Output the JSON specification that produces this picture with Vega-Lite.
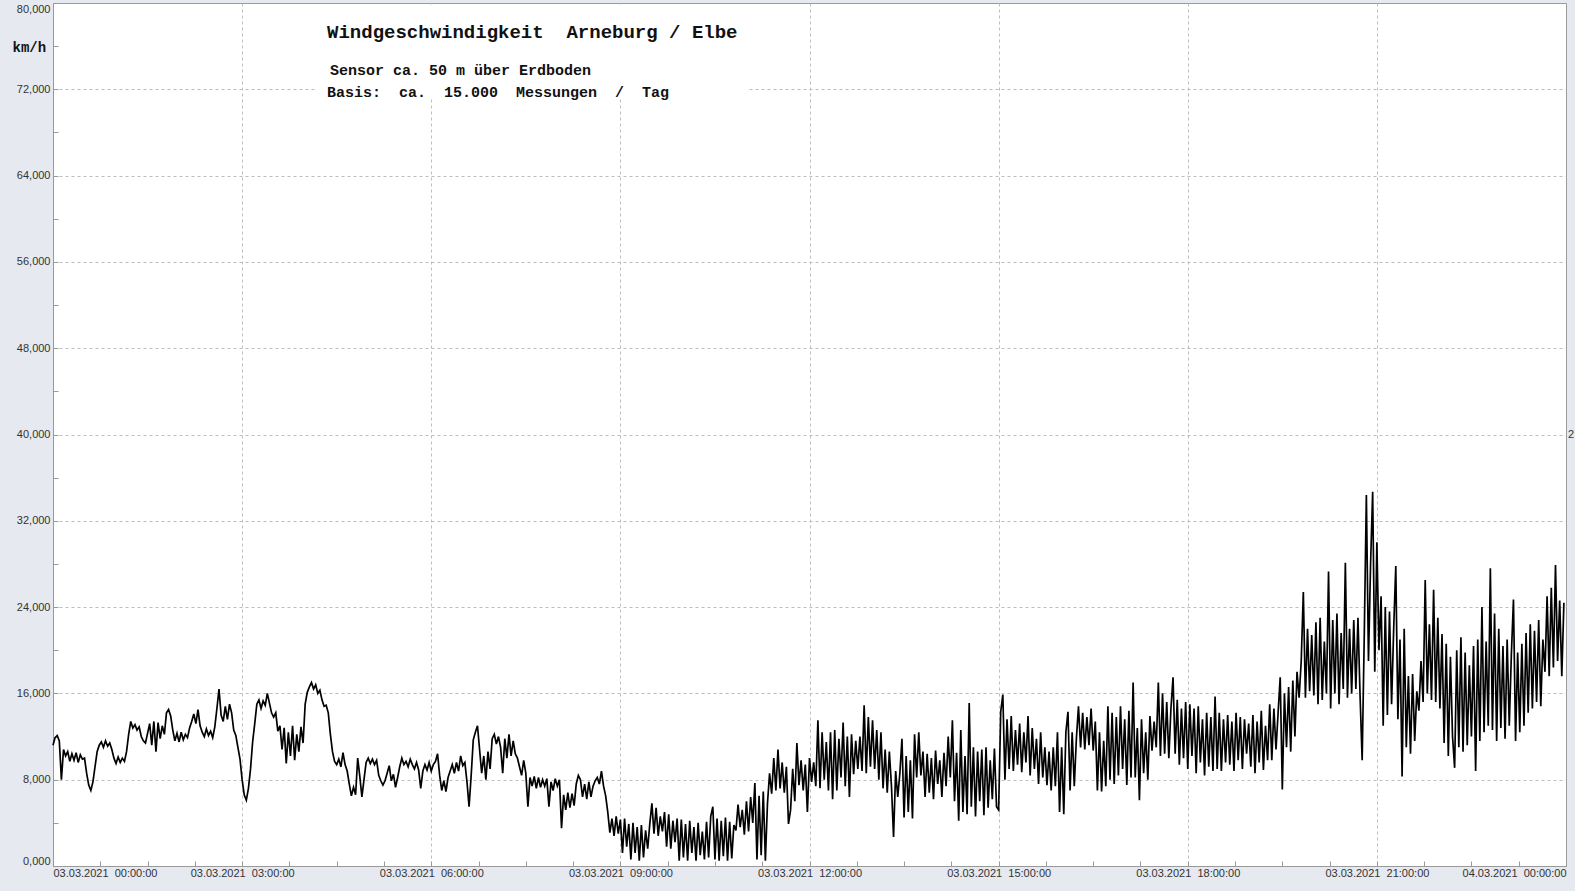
{
"$schema": "https://vega.github.io/schema/vega-lite/v6.json",
"width": 1513, "height": 863,
"autosize": {"type": "none"},
"padding": {"left": 53, "top": 3, "right": 9, "bottom": 25},
"background": "#E6E9F0",
"config": {"view": {"fill": "white", "stroke": "#9a9a9a", "strokeWidth": 1}},
"datasets": {
"wind": [
{"m":0,"v":11.2},{"m":2,"v":11.9},{"m":4,"v":12.1},{"m":6,"v":11.6},{"m":8,"v":8.0},{"m":10,"v":10.8},{"m":12,"v":10.2},{"m":14,"v":10.6},{"m":16,"v":9.7},{"m":18,"v":10.4},
{"m":20,"v":9.8},{"m":22,"v":10.5},{"m":24,"v":9.6},{"m":26,"v":10.3},{"m":28,"v":9.9},{"m":30,"v":10.0},{"m":32,"v":8.6},{"m":34,"v":7.5},{"m":36,"v":7.0},{"m":38,"v":7.8},
{"m":40,"v":9.2},{"m":42,"v":10.6},{"m":44,"v":11.2},{"m":46,"v":11.5},{"m":48,"v":11.0},{"m":50,"v":11.6},{"m":52,"v":11.1},{"m":54,"v":11.4},{"m":56,"v":10.8},{"m":58,"v":10.0},
{"m":60,"v":9.5},{"m":62,"v":10.1},{"m":64,"v":9.6},{"m":66,"v":10.0},{"m":68,"v":9.7},{"m":70,"v":10.6},{"m":72,"v":12.2},{"m":74,"v":13.4},{"m":76,"v":12.8},{"m":78,"v":13.1},
{"m":80,"v":12.6},{"m":82,"v":12.9},{"m":84,"v":12.0},{"m":86,"v":11.6},{"m":88,"v":11.4},{"m":90,"v":12.3},{"m":92,"v":13.2},{"m":94,"v":11.2},{"m":96,"v":13.4},{"m":98,"v":10.6},
{"m":100,"v":13.3},{"m":102,"v":11.8},{"m":104,"v":13.0},{"m":106,"v":12.2},{"m":108,"v":14.2},{"m":110,"v":14.5},{"m":112,"v":13.9},{"m":114,"v":12.6},{"m":116,"v":11.6},{"m":118,"v":12.3},
{"m":120,"v":11.5},{"m":122,"v":12.4},{"m":124,"v":11.7},{"m":126,"v":12.2},{"m":128,"v":11.9},{"m":130,"v":12.8},{"m":132,"v":13.4},{"m":134,"v":14.1},{"m":136,"v":13.2},{"m":138,"v":14.5},
{"m":140,"v":13.0},{"m":142,"v":12.4},{"m":144,"v":12.0},{"m":146,"v":12.7},{"m":148,"v":12.1},{"m":150,"v":12.5},{"m":152,"v":11.9},{"m":154,"v":12.9},{"m":156,"v":14.6},{"m":158,"v":16.4},
{"m":160,"v":14.0},{"m":162,"v":13.4},{"m":164,"v":14.8},{"m":166,"v":13.6},{"m":168,"v":15.0},{"m":170,"v":14.2},{"m":172,"v":12.6},{"m":174,"v":12.1},{"m":176,"v":11.0},{"m":178,"v":9.9},
{"m":180,"v":8.0},{"m":182,"v":6.6},{"m":184,"v":6.1},{"m":186,"v":7.2},{"m":188,"v":9.0},{"m":190,"v":11.5},{"m":192,"v":13.2},{"m":194,"v":15.0},{"m":196,"v":15.4},{"m":198,"v":14.6},
{"m":200,"v":15.3},{"m":202,"v":14.9},{"m":204,"v":16.0},{"m":206,"v":15.1},{"m":208,"v":14.2},{"m":210,"v":13.8},{"m":212,"v":14.2},{"m":214,"v":12.5},{"m":216,"v":13.0},{"m":218,"v":10.8},
{"m":220,"v":12.8},{"m":222,"v":9.5},{"m":224,"v":12.4},{"m":226,"v":10.2},{"m":228,"v":13.0},{"m":230,"v":9.8},{"m":232,"v":12.2},{"m":234,"v":10.6},{"m":236,"v":12.9},{"m":238,"v":11.4},
{"m":240,"v":15.0},{"m":242,"v":16.1},{"m":244,"v":16.6},{"m":246,"v":17.0},{"m":248,"v":16.4},{"m":250,"v":16.8},{"m":252,"v":16.0},{"m":254,"v":16.3},{"m":256,"v":15.4},{"m":258,"v":14.8},
{"m":260,"v":14.9},{"m":262,"v":14.2},{"m":264,"v":12.2},{"m":266,"v":10.6},{"m":268,"v":9.7},{"m":270,"v":9.4},{"m":272,"v":9.9},{"m":274,"v":9.2},{"m":276,"v":10.5},{"m":278,"v":9.4},
{"m":280,"v":8.8},{"m":282,"v":7.6},{"m":284,"v":6.5},{"m":286,"v":7.3},{"m":288,"v":6.6},{"m":290,"v":10.0},{"m":292,"v":8.3},{"m":294,"v":6.4},{"m":296,"v":8.0},{"m":298,"v":9.6},
{"m":300,"v":10.0},{"m":302,"v":9.5},{"m":304,"v":9.9},{"m":306,"v":9.4},{"m":308,"v":9.8},{"m":310,"v":8.4},{"m":312,"v":7.9},{"m":314,"v":7.5},{"m":316,"v":7.9},{"m":318,"v":8.6},
{"m":320,"v":9.3},{"m":322,"v":7.9},{"m":324,"v":8.5},{"m":326,"v":7.3},{"m":328,"v":8.2},{"m":330,"v":9.2},{"m":332,"v":10.0},{"m":334,"v":9.4},{"m":336,"v":9.7},{"m":338,"v":9.2},
{"m":340,"v":9.9},{"m":342,"v":9.4},{"m":344,"v":9.0},{"m":346,"v":9.6},{"m":348,"v":8.9},{"m":350,"v":7.2},{"m":352,"v":8.8},{"m":354,"v":9.4},{"m":356,"v":8.9},{"m":358,"v":9.6},
{"m":360,"v":8.8},{"m":362,"v":9.4},{"m":364,"v":9.7},{"m":366,"v":10.4},{"m":368,"v":8.4},{"m":370,"v":7.0},{"m":372,"v":7.9},{"m":374,"v":6.9},{"m":376,"v":8.2},{"m":378,"v":8.8},
{"m":380,"v":9.4},{"m":382,"v":8.6},{"m":384,"v":9.6},{"m":386,"v":8.8},{"m":388,"v":10.2},{"m":390,"v":9.3},{"m":392,"v":9.6},{"m":394,"v":7.8},{"m":396,"v":5.5},{"m":398,"v":8.4},
{"m":400,"v":11.7},{"m":402,"v":12.4},{"m":404,"v":13.0},{"m":406,"v":10.8},{"m":408,"v":8.6},{"m":410,"v":10.2},{"m":412,"v":8.0},{"m":414,"v":10.6},{"m":416,"v":9.0},{"m":418,"v":11.8},
{"m":420,"v":12.2},{"m":422,"v":11.3},{"m":424,"v":12.0},{"m":426,"v":11.0},{"m":428,"v":8.6},{"m":430,"v":11.8},{"m":432,"v":10.0},{"m":434,"v":12.2},{"m":436,"v":10.2},{"m":438,"v":11.6},
{"m":440,"v":10.4},{"m":442,"v":10.0},{"m":444,"v":9.2},{"m":446,"v":8.4},{"m":448,"v":9.8},{"m":450,"v":8.6},{"m":452,"v":5.5},{"m":454,"v":8.2},{"m":456,"v":7.4},{"m":458,"v":8.3},
{"m":460,"v":7.2},{"m":462,"v":8.2},{"m":464,"v":7.3},{"m":466,"v":8.0},{"m":468,"v":7.4},{"m":470,"v":8.1},{"m":472,"v":5.5},{"m":474,"v":7.8},{"m":476,"v":7.0},{"m":478,"v":8.1},
{"m":480,"v":7.4},{"m":482,"v":8.0},{"m":484,"v":3.5},{"m":486,"v":6.6},{"m":488,"v":5.2},{"m":490,"v":6.8},{"m":492,"v":5.4},{"m":494,"v":6.7},{"m":496,"v":5.6},{"m":498,"v":7.6},
{"m":500,"v":8.4},{"m":502,"v":8.0},{"m":504,"v":6.4},{"m":506,"v":7.6},{"m":508,"v":6.2},{"m":510,"v":7.8},{"m":512,"v":6.4},{"m":514,"v":7.4},{"m":516,"v":7.9},{"m":518,"v":8.2},
{"m":520,"v":7.6},{"m":522,"v":8.8},{"m":524,"v":7.4},{"m":526,"v":6.5},{"m":528,"v":5.0},{"m":530,"v":3.1},{"m":532,"v":4.4},{"m":534,"v":2.8},{"m":536,"v":4.6},{"m":538,"v":3.0},
{"m":540,"v":4.3},{"m":542,"v":1.2},{"m":544,"v":4.4},{"m":546,"v":1.8},{"m":548,"v":3.9},{"m":550,"v":0.6},{"m":552,"v":4.0},{"m":554,"v":1.2},{"m":556,"v":3.6},{"m":558,"v":0.5},
{"m":560,"v":3.8},{"m":562,"v":0.8},{"m":564,"v":3.3},{"m":566,"v":1.6},{"m":568,"v":3.9},{"m":570,"v":5.8},{"m":572,"v":3.0},{"m":574,"v":5.4},{"m":576,"v":2.8},{"m":578,"v":4.6},
{"m":580,"v":3.2},{"m":582,"v":5.0},{"m":584,"v":1.8},{"m":586,"v":4.8},{"m":588,"v":1.6},{"m":590,"v":4.2},{"m":592,"v":2.2},{"m":594,"v":4.4},{"m":596,"v":0.5},{"m":598,"v":4.3},
{"m":600,"v":0.8},{"m":602,"v":3.9},{"m":604,"v":0.5},{"m":606,"v":4.2},{"m":608,"v":1.2},{"m":610,"v":3.6},{"m":612,"v":0.5},{"m":614,"v":4.0},{"m":616,"v":1.0},{"m":618,"v":3.2},
{"m":620,"v":0.6},{"m":622,"v":4.1},{"m":624,"v":0.8},{"m":626,"v":4.6},{"m":628,"v":5.5},{"m":630,"v":0.6},{"m":632,"v":4.4},{"m":634,"v":0.5},{"m":636,"v":4.2},{"m":638,"v":0.9},
{"m":640,"v":4.5},{"m":642,"v":0.5},{"m":644,"v":4.1},{"m":646,"v":0.7},{"m":648,"v":3.8},{"m":650,"v":3.3},{"m":652,"v":5.7},{"m":654,"v":3.6},{"m":656,"v":5.2},{"m":658,"v":2.9},
{"m":660,"v":6.0},{"m":662,"v":3.2},{"m":664,"v":6.4},{"m":666,"v":4.0},{"m":668,"v":7.7},{"m":670,"v":0.6},{"m":672,"v":6.5},{"m":674,"v":1.0},{"m":676,"v":6.9},{"m":678,"v":0.5},
{"m":680,"v":5.8},{"m":682,"v":8.6},{"m":684,"v":6.7},{"m":686,"v":10.0},{"m":688,"v":7.0},{"m":690,"v":10.8},{"m":692,"v":7.2},{"m":694,"v":9.6},{"m":696,"v":6.8},{"m":698,"v":9.2},
{"m":700,"v":3.9},{"m":702,"v":5.2},{"m":704,"v":9.0},{"m":706,"v":6.0},{"m":708,"v":11.4},{"m":710,"v":7.5},{"m":712,"v":9.8},{"m":714,"v":7.0},{"m":716,"v":9.4},{"m":718,"v":5.0},
{"m":720,"v":10.0},{"m":722,"v":7.8},{"m":724,"v":9.6},{"m":726,"v":7.4},{"m":728,"v":13.5},{"m":730,"v":7.2},{"m":732,"v":12.4},{"m":734,"v":8.0},{"m":736,"v":11.5},{"m":738,"v":7.0},
{"m":740,"v":12.4},{"m":742,"v":6.2},{"m":744,"v":12.6},{"m":746,"v":7.0},{"m":748,"v":11.8},{"m":750,"v":8.2},{"m":752,"v":13.3},{"m":754,"v":7.4},{"m":756,"v":12.0},{"m":758,"v":6.4},
{"m":760,"v":12.2},{"m":762,"v":8.5},{"m":764,"v":11.6},{"m":766,"v":9.0},{"m":768,"v":12.0},{"m":770,"v":8.8},{"m":772,"v":14.9},{"m":774,"v":8.6},{"m":776,"v":13.8},{"m":778,"v":9.2},
{"m":780,"v":13.5},{"m":782,"v":9.0},{"m":784,"v":12.6},{"m":786,"v":8.0},{"m":788,"v":12.4},{"m":790,"v":7.2},{"m":792,"v":10.8},{"m":794,"v":6.8},{"m":796,"v":10.6},{"m":798,"v":7.4},
{"m":800,"v":2.7},{"m":802,"v":8.8},{"m":804,"v":6.4},{"m":806,"v":8.6},{"m":808,"v":11.8},{"m":810,"v":4.5},{"m":812,"v":10.2},{"m":814,"v":5.0},{"m":816,"v":9.8},{"m":818,"v":4.4},
{"m":820,"v":12.2},{"m":822,"v":8.2},{"m":824,"v":12.4},{"m":826,"v":8.4},{"m":828,"v":10.6},{"m":830,"v":6.4},{"m":832,"v":10.4},{"m":834,"v":6.8},{"m":836,"v":10.0},{"m":838,"v":6.2},
{"m":840,"v":10.7},{"m":842,"v":7.6},{"m":844,"v":9.8},{"m":846,"v":6.4},{"m":848,"v":10.5},{"m":850,"v":7.4},{"m":852,"v":12.0},{"m":854,"v":8.2},{"m":856,"v":13.5},{"m":858,"v":6.0},
{"m":860,"v":10.5},{"m":862,"v":4.2},{"m":864,"v":12.6},{"m":866,"v":5.0},{"m":868,"v":10.2},{"m":870,"v":4.8},{"m":872,"v":15.1},{"m":874,"v":5.5},{"m":876,"v":11.0},{"m":878,"v":4.6},
{"m":880,"v":10.6},{"m":882,"v":6.0},{"m":884,"v":10.8},{"m":886,"v":4.7},{"m":888,"v":11.0},{"m":890,"v":5.4},{"m":892,"v":9.8},{"m":894,"v":6.2},{"m":896,"v":10.9},{"m":898,"v":5.5},
{"m":900,"v":5.2},{"m":902,"v":14.3},{"m":904,"v":15.9},{"m":906,"v":8.0},{"m":908,"v":13.6},{"m":910,"v":9.0},{"m":912,"v":13.9},{"m":914,"v":8.8},{"m":916,"v":12.6},{"m":918,"v":9.4},
{"m":920,"v":13.2},{"m":922,"v":8.7},{"m":924,"v":12.4},{"m":926,"v":9.6},{"m":928,"v":13.9},{"m":930,"v":8.4},{"m":932,"v":12.8},{"m":934,"v":9.0},{"m":936,"v":11.8},{"m":938,"v":7.6},
{"m":940,"v":12.4},{"m":942,"v":8.2},{"m":944,"v":11.0},{"m":946,"v":7.5},{"m":948,"v":10.6},{"m":950,"v":7.0},{"m":952,"v":11.0},{"m":954,"v":7.4},{"m":956,"v":12.4},{"m":958,"v":5.0},
{"m":960,"v":11.0},{"m":962,"v":4.8},{"m":964,"v":12.4},{"m":966,"v":14.3},{"m":968,"v":7.0},{"m":970,"v":12.4},{"m":972,"v":7.4},{"m":974,"v":11.8},{"m":976,"v":14.8},{"m":978,"v":11.0},
{"m":980,"v":14.2},{"m":982,"v":10.8},{"m":984,"v":13.8},{"m":986,"v":11.2},{"m":988,"v":14.6},{"m":990,"v":10.7},{"m":992,"v":13.4},{"m":994,"v":7.0},{"m":996,"v":12.4},{"m":998,"v":6.9},
{"m":1000,"v":11.6},{"m":1002,"v":7.4},{"m":1004,"v":14.8},{"m":1006,"v":8.0},{"m":1008,"v":14.2},{"m":1010,"v":7.6},{"m":1012,"v":13.8},{"m":1014,"v":8.4},{"m":1016,"v":14.8},{"m":1018,"v":9.0},
{"m":1020,"v":13.6},{"m":1022,"v":7.5},{"m":1024,"v":14.4},{"m":1026,"v":8.2},{"m":1028,"v":17.0},{"m":1030,"v":8.2},{"m":1032,"v":12.8},{"m":1034,"v":6.1},{"m":1036,"v":13.6},{"m":1038,"v":8.6},
{"m":1040,"v":12.4},{"m":1042,"v":8.0},{"m":1044,"v":13.9},{"m":1046,"v":10.7},{"m":1048,"v":13.4},{"m":1050,"v":11.0},{"m":1052,"v":17.0},{"m":1054,"v":10.2},{"m":1056,"v":16.0},{"m":1058,"v":10.4},
{"m":1060,"v":15.2},{"m":1062,"v":10.0},{"m":1064,"v":14.6},{"m":1066,"v":17.5},{"m":1068,"v":10.4},{"m":1070,"v":15.4},{"m":1072,"v":9.4},{"m":1074,"v":14.6},{"m":1076,"v":10.0},{"m":1078,"v":15.2},
{"m":1080,"v":9.0},{"m":1082,"v":15.0},{"m":1084,"v":10.2},{"m":1086,"v":14.6},{"m":1088,"v":8.6},{"m":1090,"v":14.8},{"m":1092,"v":9.6},{"m":1094,"v":13.6},{"m":1096,"v":8.4},{"m":1098,"v":14.2},
{"m":1100,"v":9.2},{"m":1102,"v":13.8},{"m":1104,"v":8.8},{"m":1106,"v":15.7},{"m":1108,"v":9.0},{"m":1110,"v":14.2},{"m":1112,"v":8.8},{"m":1114,"v":13.6},{"m":1116,"v":9.6},{"m":1118,"v":14.0},
{"m":1120,"v":9.4},{"m":1122,"v":13.4},{"m":1124,"v":8.8},{"m":1126,"v":14.2},{"m":1128,"v":9.8},{"m":1130,"v":13.8},{"m":1132,"v":9.0},{"m":1134,"v":13.6},{"m":1136,"v":10.4},{"m":1138,"v":13.2},
{"m":1140,"v":9.2},{"m":1142,"v":14.0},{"m":1144,"v":8.6},{"m":1146,"v":13.4},{"m":1148,"v":9.6},{"m":1150,"v":14.4},{"m":1152,"v":8.9},{"m":1154,"v":13.0},{"m":1156,"v":9.8},{"m":1158,"v":15.0},
{"m":1160,"v":9.8},{"m":1162,"v":14.6},{"m":1164,"v":10.8},{"m":1166,"v":14.2},{"m":1168,"v":17.5},{"m":1170,"v":7.1},{"m":1172,"v":16.0},{"m":1174,"v":11.0},{"m":1176,"v":16.6},{"m":1178,"v":10.6},
{"m":1180,"v":17.2},{"m":1182,"v":12.0},{"m":1184,"v":18.0},{"m":1186,"v":15.6},{"m":1188,"v":19.0},{"m":1190,"v":25.4},{"m":1192,"v":15.6},{"m":1194,"v":22.0},{"m":1196,"v":16.2},{"m":1198,"v":21.4},
{"m":1200,"v":15.8},{"m":1202,"v":22.6},{"m":1204,"v":15.0},{"m":1206,"v":23.0},{"m":1208,"v":15.4},{"m":1210,"v":20.8},{"m":1212,"v":16.0},{"m":1214,"v":27.3},{"m":1216,"v":14.6},{"m":1218,"v":22.8},
{"m":1220,"v":16.0},{"m":1222,"v":23.4},{"m":1224,"v":15.0},{"m":1226,"v":21.6},{"m":1228,"v":16.4},{"m":1230,"v":28.1},{"m":1232,"v":15.6},{"m":1234,"v":22.0},{"m":1236,"v":16.0},{"m":1238,"v":22.8},
{"m":1240,"v":16.4},{"m":1242,"v":23.0},{"m":1244,"v":15.8},{"m":1246,"v":9.8},{"m":1248,"v":21.4},{"m":1250,"v":34.4},{"m":1252,"v":19.0},{"m":1254,"v":28.0},{"m":1256,"v":34.7},{"m":1258,"v":18.0},
{"m":1260,"v":30.0},{"m":1262,"v":20.0},{"m":1264,"v":25.0},{"m":1266,"v":13.0},{"m":1268,"v":24.0},{"m":1270,"v":14.0},{"m":1272,"v":23.6},{"m":1274,"v":15.0},{"m":1276,"v":22.0},{"m":1278,"v":27.8},
{"m":1280,"v":13.6},{"m":1282,"v":21.0},{"m":1284,"v":8.3},{"m":1286,"v":22.0},{"m":1288,"v":11.0},{"m":1290,"v":17.6},{"m":1292,"v":10.4},{"m":1294,"v":17.8},{"m":1296,"v":11.6},{"m":1298,"v":16.2},
{"m":1300,"v":14.4},{"m":1302,"v":19.0},{"m":1304,"v":15.2},{"m":1306,"v":26.5},{"m":1308,"v":16.0},{"m":1310,"v":22.4},{"m":1312,"v":15.4},{"m":1314,"v":25.6},{"m":1316,"v":15.2},{"m":1318,"v":23.0},
{"m":1320,"v":14.6},{"m":1322,"v":21.5},{"m":1324,"v":11.4},{"m":1326,"v":20.6},{"m":1328,"v":10.2},{"m":1330,"v":19.4},{"m":1332,"v":12.0},{"m":1334,"v":9.1},{"m":1336,"v":20.0},{"m":1338,"v":11.0},
{"m":1340,"v":21.2},{"m":1342,"v":10.6},{"m":1344,"v":19.8},{"m":1346,"v":11.2},{"m":1348,"v":18.6},{"m":1350,"v":12.0},{"m":1352,"v":20.4},{"m":1354,"v":8.8},{"m":1356,"v":21.0},{"m":1358,"v":11.6},
{"m":1360,"v":24.0},{"m":1362,"v":12.4},{"m":1364,"v":20.8},{"m":1366,"v":13.0},{"m":1368,"v":27.6},{"m":1370,"v":12.6},{"m":1372,"v":23.4},{"m":1374,"v":11.6},{"m":1376,"v":22.0},{"m":1378,"v":12.8},
{"m":1380,"v":20.4},{"m":1382,"v":11.8},{"m":1384,"v":21.0},{"m":1386,"v":13.0},{"m":1388,"v":19.6},{"m":1390,"v":24.7},{"m":1392,"v":11.6},{"m":1394,"v":19.8},{"m":1396,"v":12.4},{"m":1398,"v":20.6},
{"m":1400,"v":13.0},{"m":1402,"v":21.6},{"m":1404,"v":14.2},{"m":1406,"v":22.4},{"m":1408,"v":14.6},{"m":1410,"v":21.8},{"m":1412,"v":15.2},{"m":1414,"v":22.8},{"m":1416,"v":14.8},{"m":1418,"v":21.0},
{"m":1420,"v":18.0},{"m":1422,"v":25.0},{"m":1424,"v":17.6},{"m":1426,"v":25.8},{"m":1428,"v":18.4},{"m":1430,"v":27.9},{"m":1432,"v":19.0},{"m":1434,"v":24.6},{"m":1436,"v":17.6},{"m":1438,"v":24.4}
],
"titleText": [{"label": "Windgeschwindigkeit\u00a0\u00a0Arneburg / Elbe"}],
"sensorText": [{"label": "Sensor ca. 50 m über Erdboden"}],
"basisText": [{"label": "Basis:\u00a0\u00a0ca.\u00a0\u00a015.000\u00a0\u00a0Messungen\u00a0\u00a0/\u00a0\u00a0Tag"}],
"edgeText": [{"label": "2"}],
"box": [{"name": "box"}]
},
"layer": [
  {"data": {"name": "wind"},
   "mark": {"type": "line", "color": "#000000", "strokeWidth": 1.7, "interpolate": "linear"},
   "encoding": {
    "x": {"field": "m", "type": "quantitative", "scale": {"domain": [0, 1440], "nice": false, "zero": false},
      "axis": {"title": null,
        "values": [0,45,90,135,180,225,270,315,360,405,450,495,540,585,630,675,720,765,810,855,900,945,990,1035,1080,1125,1170,1215,1260,1305,1350,1395,1440],
        "labelExpr": "datum.value % 180 === 0 ? ((datum.value < 1440 ? '03.03.2021\u00a0\u00a0' : '04.03.2021\u00a0\u00a0') + (floor(datum.value/60) % 24 < 10 ? '0' : '') + (floor(datum.value/60) % 24) + ':00:00') : ''",
        "labelFlush": true, "labelFont": "Liberation Sans", "labelFontSize": 11, "labelColor": "#333333",
        "labelPadding": 6, "tickSize": -5, "tickColor": "#999999", "domainColor": "#999999",
        "grid": true, "gridColor": "#BDBDBD", "gridDash": [3, 3],
        "gridOpacity": {"condition": {"test": "datum.value % 180 === 0 && datum.value > 0 && datum.value < 1440", "value": 1}, "value": 0}
      }},
    "y": {"field": "v", "type": "quantitative", "scale": {"domain": [0, 80], "nice": false},
      "axis": {"title": "km/h", "titleAngle": 0, "titleAlign": "left", "titleBaseline": "middle", "titleX": -41, "titleY": 44,
        "titleFont": "Liberation Mono", "titleFontWeight": "bold", "titleFontSize": 14, "titleColor": "#111111",
        "values": [0,2,4,6,8,10,12,14,16,18,20,22,24,26,28,30,32,34,36,38,40,42,44,46,48,50,52,54,56,58,60,62,64,66,68,70,72,74,76,78,80],
        "labelExpr": "datum.value % 8 === 0 ? replace(format(datum.value, '.3f'), '.', ',') : ''",
        "labelFlush": true, "labelFont": "Liberation Sans", "labelFontSize": 11, "labelColor": "#333333",
        "labelPadding": 8, "tickSize": -5, "tickColor": "#999999", "domainColor": "#999999",
        "grid": true, "gridColor": "#BDBDBD", "gridDash": [3, 3],
        "gridOpacity": {"condition": {"test": "datum.value % 8 === 0 && datum.value > 0 && datum.value < 80", "value": 1}, "value": 0}
      }}
   }},
  {"data": {"name": "box"}, "mark": {"type": "rect", "fill": "#ffffff"},
   "encoding": {"x": {"datum": 249.4, "type": "quantitative"}, "x2": {"datum": 661.5}, "y": {"datum": 71.27, "type": "quantitative"}, "y2": {"datum": 79.85}}},
  {"data": {"name": "titleText"}, "mark": {"type": "text", "font": "Liberation Mono", "fontWeight": "bold", "fontSize": 19, "align": "left", "baseline": "middle", "fill": "#111111"},
   "encoding": {"text": {"field": "label"}, "x": {"datum": 260.8, "type": "quantitative"}, "y": {"datum": 77.3, "type": "quantitative"}}},
  {"data": {"name": "sensorText"}, "mark": {"type": "text", "font": "Liberation Mono", "fontWeight": "bold", "fontSize": 15, "align": "left", "baseline": "middle", "fill": "#111111"},
   "encoding": {"text": {"field": "label"}, "x": {"datum": 263.6, "type": "quantitative"}, "y": {"datum": 73.8, "type": "quantitative"}}},
  {"data": {"name": "basisText"}, "mark": {"type": "text", "font": "Liberation Mono", "fontWeight": "bold", "fontSize": 15, "align": "left", "baseline": "middle", "fill": "#111111"},
   "encoding": {"text": {"field": "label"}, "x": {"datum": 260.8, "type": "quantitative"}, "y": {"datum": 71.76, "type": "quantitative"}}},
  {"data": {"name": "edgeText"}, "mark": {"type": "text", "font": "Liberation Sans", "fontSize": 11, "align": "left", "baseline": "middle", "dx": 2, "fill": "#333333"},
   "encoding": {"text": {"field": "label"}, "x": {"datum": 1440, "type": "quantitative"}, "y": {"datum": 40, "type": "quantitative"}}}
]
}
